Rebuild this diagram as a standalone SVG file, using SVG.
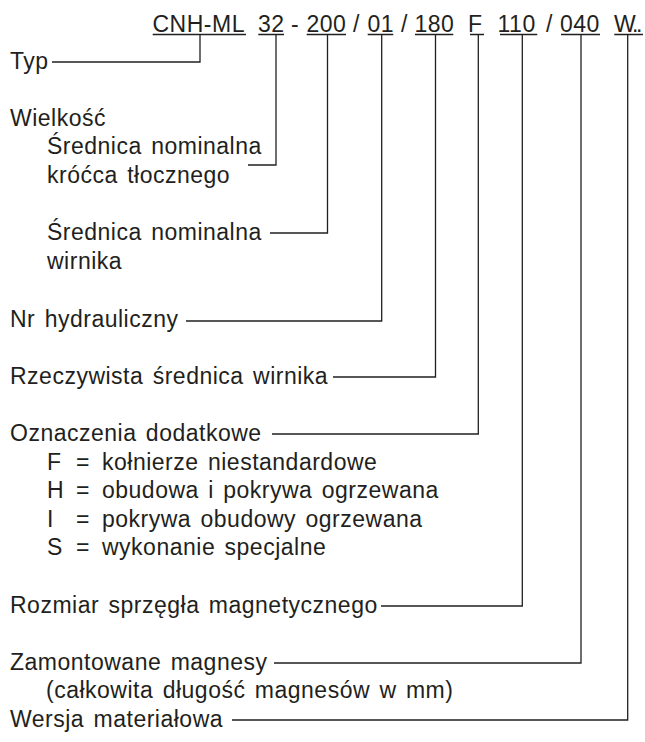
<svg xmlns="http://www.w3.org/2000/svg" width="645" height="742" viewBox="0 0 645 742">
<style>
  text { font-family: "Liberation Sans", Arial, sans-serif; font-size: 23px; fill: #231f20; letter-spacing: 0.5px; word-spacing: 2.5px; }
  .ln { fill: none; stroke: #231f20; stroke-width: 1.3; }
</style>
<rect width="645" height="742" fill="#ffffff"/>
<g id="code">
  <text x="152.5" y="31.5">CNH-ML</text>
  <text x="258" y="31.5">32</text>
  <text x="291" y="31.5">-</text>
  <text x="306.5" y="31.5">200</text>
  <text x="353" y="31.5">/</text>
  <text x="367.5" y="31.5">01</text>
  <text x="401" y="31.5">/</text>
  <text x="414.5" y="31.5">180</text>
  <text x="468" y="31.5">F</text>
  <text x="497.5" y="31.5">110</text>
  <text x="546" y="31.5">/</text>
  <text x="560" y="31.5">040</text>
  <text x="614" y="31.5" textLength="29" lengthAdjust="spacing">W..</text>
  <path class="ln" d="M152.7 34.5H246 M258.3 34.5H284 M306.7 34.5H346 M367.7 34.5H393.3 M415 34.5H453.3 M470 34.5H484 M500 34.5H537.3 M561 34.5H600 M614.3 34.5H643"/>
</g>
<g id="typ"><text x="10" y="69">Typ</text></g>
<g id="wielkosc">
  <text x="10" y="126">Wielkość</text>
  <text x="47" y="154">Średnica nominalna</text>
  <text x="47" y="183">króćca tłocznego</text>
</g>
<g id="srednica-wirnika">
  <text x="47" y="240">Średnica nominalna</text>
  <text x="47" y="269">wirnika</text>
</g>
<g id="nr"><text x="10" y="327">Nr hydrauliczny</text></g>
<g id="rzeczywista"><text x="10" y="384">Rzeczywista średnica wirnika</text></g>
<g id="oznaczenia">
  <text x="10" y="441">Oznaczenia dodatkowe</text>
  <text x="47" y="470">F</text><text x="76" y="470">=</text><text x="102" y="470">kołnierze niestandardowe</text>
  <text x="47" y="498">H</text><text x="76" y="498">=</text><text x="102" y="498">obudowa i pokrywa ogrzewana</text>
  <text x="47" y="527">I</text><text x="76" y="527">=</text><text x="102" y="527">pokrywa obudowy ogrzewana</text>
  <text x="47" y="555">S</text><text x="76" y="555">=</text><text x="102" y="555">wykonanie specjalne</text>
</g>
<g id="rozmiar"><text x="10" y="613">Rozmiar sprzęgła magnetycznego</text></g>
<g id="zamontowane">
  <text x="10" y="670">Zamontowane magnesy</text>
  <text x="46" y="698">(całkowita długość magnesów w mm)</text>
</g>
<g id="wersja"><text x="10" y="727">Wersja materiałowa</text></g>
<g id="connectors">
  <polyline class="ln" points="52,62 200,62 200,35"/>
  <polyline class="ln" points="248,165 276,165 276,35"/>
  <polyline class="ln" points="270,233 327.5,233 327.5,35"/>
  <polyline class="ln" points="186,321 381.7,321 381.7,35"/>
  <polyline class="ln" points="333,377 435.5,377 435.5,35"/>
  <polyline class="ln" points="272,434 478.3,434 478.3,35"/>
  <polyline class="ln" points="381,606 522.3,606 522.3,35"/>
  <polyline class="ln" points="274,663 581,663 581,35"/>
  <polyline class="ln" points="232,720 627.7,720 627.7,35"/>
</g>
</svg>
